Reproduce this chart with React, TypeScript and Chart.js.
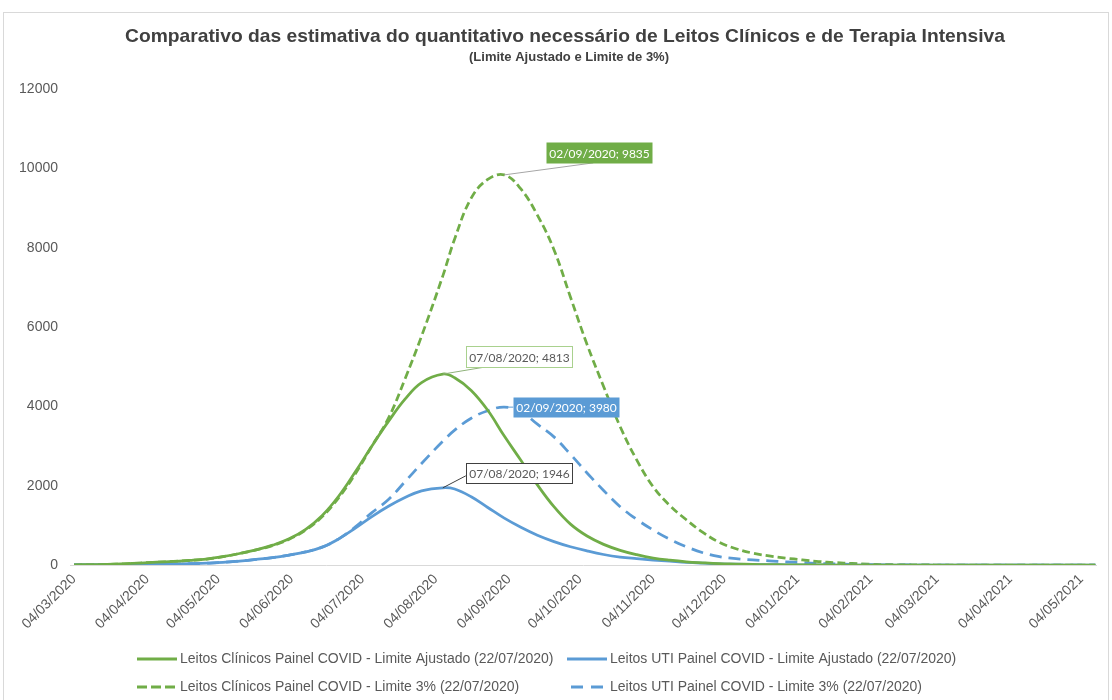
import React, { useEffect, useRef } from "react";
import { Chart, registerables } from "chart.js";

Chart.register(...registerables);

// ---------- data ----------
const dates = [
  "04/03/2020","11/03/2020","18/03/2020","25/03/2020","01/04/2020","08/04/2020","15/04/2020","22/04/2020","29/04/2020","06/05/2020",
  "13/05/2020","20/05/2020","27/05/2020","03/06/2020","10/06/2020","17/06/2020","24/06/2020","01/07/2020","08/07/2020","15/07/2020",
  "22/07/2020","29/07/2020","07/08/2020","12/08/2020","19/08/2020","26/08/2020","02/09/2020","09/09/2020","16/09/2020","23/09/2020",
  "30/09/2020","07/10/2020","14/10/2020","21/10/2020","28/10/2020","04/11/2020","11/11/2020","18/11/2020","25/11/2020","02/12/2020",
  "09/12/2020","16/12/2020","23/12/2020","30/12/2020","06/01/2021","13/01/2021","20/01/2021","27/01/2021","03/02/2021","10/02/2021",
  "17/02/2021","24/02/2021","03/03/2021","10/03/2021","17/03/2021","24/03/2021","31/03/2021","07/04/2021","14/04/2021","21/04/2021",
  "28/04/2021","05/05/2021","10/05/2021",
];

const clinicosAjustado = [
  5, 10, 15, 30, 50, 70, 90, 115, 150, 210,
  290, 380, 500, 660, 900, 1250, 1740, 2350, 3000, 3620,
  4180, 4600, 4813, 4720, 4400, 3900, 3250, 2640, 2020, 1470,
  1030, 730, 520, 370, 260, 175, 120, 80, 55, 35,
  25, 15, 10, 6, 4, 2, 0, 0, 0, 0,
  0, 0, 0, 0, 0, 0, 0, 0, 0, 0,
  0, 0, 0,
];

const utiAjustado = [
  2, 3, 5, 8, 12, 17, 22, 32, 45, 65,
  100, 140, 185, 250, 330, 450, 660, 930, 1220, 1480,
  1700, 1870, 1946, 1915, 1720, 1450, 1180, 950, 750, 590,
  460, 355, 265, 200, 160, 125, 95, 65, 45, 30,
  20, 12, 8, 5, 3, 2, 0, 0, 0, 0,
  0, 0, 0, 0, 0, 0, 0, 0, 0, 0,
  0, 0, 0,
];

const clinicos3 = [
  5, 10, 15, 30, 50, 70, 90, 115, 150, 210,
  290, 380, 490, 650, 880, 1220, 1700, 2300, 3000, 3700,
  4690, 5770, 7290, 8220, 9250, 9720, 9835, 9480, 8820, 7950,
  6750, 5560, 4500, 3490, 2650, 1970, 1500, 1140, 820, 570,
  410, 300, 230, 175, 130, 88, 60, 40, 22, 10,
  5, 2, 0, 0, 0, 0, 0, 0, 0, 0,
  0, 0, 0,
];

const uti3 = [
  2, 3, 5, 8, 12, 17, 22, 32, 45, 65,
  100, 140, 185, 250, 330, 450, 660, 960, 1320, 1650,
  2100, 2560, 3120, 3400, 3700, 3890, 3980, 3870, 3550, 3230,
  2790, 2320, 1880, 1470, 1150, 880, 650, 460, 310, 210,
  160, 130, 105, 80, 60, 40, 28, 18, 10, 5,
  2, 0, 0, 0, 0, 0, 0, 0, 0, 0,
  0, 0, 0,
];

const xTickLabels = [
  "04/03/2020","04/04/2020","04/05/2020","04/06/2020","04/07/2020","04/08/2020","04/09/2020","04/10/2020",
  "04/11/2020","04/12/2020","04/01/2021","04/02/2021","04/03/2021","04/04/2021","04/05/2021",
];

const seriesNames = [
  "Leitos Clínicos Painel COVID - Limite Ajustado (22/07/2020)",
  "Leitos UTI Painel COVID - Limite Ajustado (22/07/2020)",
  "Leitos Clínicos Painel COVID - Limite 3% (22/07/2020)",
  "Leitos UTI Painel COVID - Limite 3% (22/07/2020)",
];

const titleText = "Comparativo das estimativa do quantitativo necessário de Leitos Clínicos e de Terapia Intensiva";
const subtitleText = "(Limite Ajustado e Limite de 3%)";

// callouts: series index + date of the labelled point
const calloutSeries = [2, 0, 3, 1];
const calloutDates = ["02/09/2020", "07/08/2020", "02/09/2020", "07/08/2020"];

// ---------- helpers ----------
const GREEN = "#70AD47";
const BLUE = "#5B9BD5";
const TEXT = "#595959";
const FONT = "'Liberation Sans', Arial, sans-serif";

const baseDate = dates[0];
function dayOf(s: string): number {
  const [d, m, y] = s.split("/").map(Number);
  const [bd, bm, by] = baseDate.split("/").map(Number);
  return Math.round((Date.UTC(y, m - 1, d) - Date.UTC(by, bm - 1, bd)) / 86400000);
}
const xDays = dates.map(dayOf);
const tickDays = xTickLabels.map(dayOf);
const allSeries = [clinicosAjustado, utiAjustado, clinicos3, uti3];
const toPoints = (vals: number[]) => vals.map((v, i) => ({ x: xDays[i], y: v }));

// visual styles for callouts (box offsets relative to point)
const calloutStyles = [
  { dx: 42, dy: -33, w: 106, h: 21, fill: GREEN, stroke: null, color: "#ffffff", lx: 89, ly: -12, lineColor: "#a6a6a6" },
  { dx: 23, dy: -28, w: 106, h: 21, fill: "#ffffff", stroke: "#A9D18E", color: TEXT, lx: 42, ly: -7, lineColor: "#8fb27a" },
  { dx: 9, dy: -10, w: 106, h: 20, fill: BLUE, stroke: null, color: "#ffffff", lx: 9, ly: 0, lineColor: BLUE },
  { dx: 23, dy: -25, w: 106, h: 20, fill: "#ffffff", stroke: "#404040", color: TEXT, lx: 23, ly: -12, lineColor: "#404040" },
];

const legendPos = [
  { x: 137, y: 659 },
  { x: 567, y: 659 },
  { x: 137, y: 687 },
  { x: 567, y: 687 },
];

function fitText(ctx: CanvasRenderingContext2D, text: string, cx: number, cy: number, font: string, targetW: number, color: string) {
  ctx.save();
  ctx.font = font;
  const w = ctx.measureText(text).width;
  const s = targetW / w;
  ctx.translate(cx, cy);
  ctx.scale(s, 1);
  ctx.fillStyle = color;
  ctx.textAlign = "center";
  ctx.textBaseline = "middle";
  ctx.fillText(text, 0, 0);
  ctx.restore();
}

const overlayPlugin = {
  id: "overlay",
  beforeDatasetsDraw(chart: any) {
    const { ctx, chartArea, scales } = chart;
    const y0 = Math.round(scales.y.getPixelForValue(0)) + 0.5;
    ctx.save();
    ctx.strokeStyle = "#d9d9d9";
    ctx.lineWidth = 1;
    ctx.beginPath();
    ctx.moveTo(chartArea.left, y0);
    ctx.lineTo(chartArea.right, y0);
    ctx.stroke();
    ctx.restore();
  },
  afterDraw(chart: any) {
    const { ctx, scales } = chart;
    ctx.save();
    // outer border
    ctx.strokeStyle = "#d9d9d9";
    ctx.lineWidth = 1;
    ctx.strokeRect(3.5, 12.5, 1105, 720);

    // title & subtitle
    fitText(ctx, titleText, 565, 37, `bold 19px ${FONT}`, 880, "#404040");
    fitText(ctx, subtitleText, 569, 57, `bold 13px ${FONT}`, 200, "#404040");

    // callouts
    calloutSeries.forEach((si, k) => {
      const idx = dates.indexOf(calloutDates[k]);
      const val = allSeries[si][idx];
      const px = scales.x.getPixelForValue(xDays[idx]);
      const py = scales.y.getPixelForValue(val);
      const st = calloutStyles[k];
      const bx = Math.round(px + st.dx) + 0.5;
      const by = Math.round(py + st.dy) + 0.5;
      ctx.strokeStyle = st.lineColor;
      ctx.lineWidth = 1;
      ctx.beginPath();
      ctx.moveTo(px, py);
      ctx.lineTo(px + st.lx, py + st.ly);
      ctx.stroke();
      ctx.fillStyle = st.fill;
      ctx.fillRect(bx, by, st.w, st.h);
      if (st.stroke) {
        ctx.strokeStyle = st.stroke;
        ctx.strokeRect(bx, by, st.w, st.h);
      }
      ctx.fillStyle = st.color;
      ctx.font = "12px Lato, 'Open Sans', sans-serif";
      ctx.textAlign = "center";
      ctx.textBaseline = "middle";
      ctx.fillText(`${calloutDates[k]}; ${val}`, bx + st.w / 2, by + st.h / 2 + 1);
    });

    // legend
    chart.data.datasets.forEach((ds: any, i: number) => {
      const p = legendPos[i];
      ctx.strokeStyle = ds.borderColor;
      ctx.lineWidth = 3;
      ctx.setLineDash(i === 2 ? [10, 4] : i === 3 ? [12, 8] : []);
      ctx.lineDashOffset = i === 3 ? -4 : 0;
      ctx.beginPath();
      ctx.moveTo(p.x, p.y);
      ctx.lineTo(p.x + 40, p.y);
      ctx.stroke();
      ctx.setLineDash([]);
      ctx.fillStyle = TEXT;
      ctx.font = `14px ${FONT}`;
      ctx.textAlign = "left";
      ctx.textBaseline = "middle";
      ctx.fillText(seriesNames[i], p.x + 43, p.y);
    });
    ctx.restore();
  },
};

export default function App() {
  const canvasRef = useRef<HTMLCanvasElement | null>(null);

  useEffect(() => {
    const canvas = canvasRef.current;
    if (!canvas) return;
    const colors = [GREEN, BLUE, GREEN, BLUE];
    const dashes = [[], [], [8, 4], [12, 7]];
    const chart = new Chart(canvas, {
      type: "line",
      data: {
        datasets: allSeries.map((vals, i) => ({
          label: seriesNames[i],
          data: toPoints(vals),
          borderColor: colors[i],
          backgroundColor: colors[i],
          borderWidth: 2.75,
          borderDash: dashes[i],
          pointRadius: 0,
          pointHoverRadius: 0,
          tension: 0.4,
          fill: false,
        })),
      },
      options: {
        animation: false,
        responsive: false,
        devicePixelRatio: 1,
        events: [],
        layout: { padding: { left: 8, right: 15, top: 89, bottom: 0 } },
        plugins: {
          legend: { display: false },
          title: { display: false },
          tooltip: { enabled: false },
        },
        scales: {
          x: {
            type: "linear",
            min: -1.7,
            max: 432.7,
            grid: { display: false, drawTicks: false },
            border: { display: false },
            afterBuildTicks: (scale: any) => {
              scale.ticks = tickDays.map((v) => ({ value: v }));
            },
            afterFit: (scale: any) => {
              scale.height = 135;
            },
            ticks: {
              autoSkip: false,
              minRotation: 45,
              maxRotation: 45,
              padding: 6,
              color: TEXT,
              font: { family: FONT, size: 14 },
              callback: (_v: any, i: number) => xTickLabels[i],
            },
          },
          y: {
            min: 0,
            max: 12000,
            grid: { display: false, drawTicks: false },
            border: { display: false },
            afterFit: (scale: any) => {
              scale.width = 62;
            },
            ticks: {
              stepSize: 2000,
              padding: 12,
              color: TEXT,
              font: { family: FONT, size: 14 },
              callback: (v: any) => String(v),
            },
          },
        },
      },
      plugins: [overlayPlugin],
    } as any);
    return () => chart.destroy();
  }, []);

  return (
    <div style={{ position: "absolute", left: 0, top: 0, width: 1112, height: 700, background: "#ffffff" }}>
      <canvas ref={canvasRef} width={1112} height={700} style={{ display: "block" }} />
    </div>
  );
}
